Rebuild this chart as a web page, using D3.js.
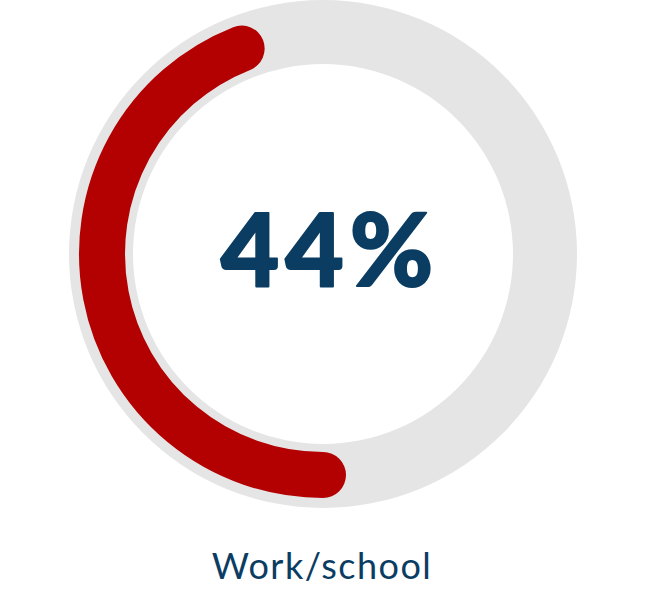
<!DOCTYPE html>
<html>
<head>
<meta charset="utf-8">
<script src="https://cdn.jsdelivr.net/npm/d3@7"></script>
<style>
  body { margin: 0; background: #fff; }
  svg { display: block; }
</style>
</head>
<body>
<script>
var w = 646,
    h = 592;

var categories = ["Work/school"];
var values = [44];
var valueLabels = ["44%"];

var cx = 323, cy = 254;

var svg = d3.select("body").append("svg")
    .attr("width", w)
    .attr("height", h);

var g = svg.append("g")
    .attr("transform", "translate(" + cx + "," + cy + ")");

// angle runs clockwise from 12 o'clock, the filled part starts at the bottom
var angle = d3.scaleLinear()
    .domain([0, 100])
    .range([Math.PI, 3 * Math.PI]);

var track = d3.arc()
    .innerRadius(190)
    .outerRadius(254)
    .startAngle(0)
    .endAngle(2 * Math.PI);

g.append("path")
    .attr("class", "track")
    .attr("d", track())
    .style("fill", "#e5e5e5");

function arcLine(r, a0, a1){
	var p = d3.path();
	p.arc(0, 0, r, a0 - Math.PI / 2, a1 - Math.PI / 2, false);
	return p.toString();
};

g.selectAll(".value")
    .data(values)
  .enter().append("path")
    .attr("class", "value")
    .attr("d", function(d){ return arcLine(221, angle(0), angle(d)); })
    .style("fill", "none")
    .style("stroke", "#b30000")
    .style("stroke-width", 46)
    .style("stroke-linecap", "round");

g.selectAll(".big")
    .data(valueLabels)
  .enter().append("text")
    .attr("class", "big")
    .attr("x", 7)
    .attr("y", 32)
    .attr("text-anchor", "middle")
    .style("font-family", "Lato, sans-serif")
    .style("font-weight", 900)
    .style("font-size", "101px")
    .style("letter-spacing", "6px")
    .style("fill", "#0b3d63")
    .style("stroke", "#0b3d63")
    .style("stroke-width", 2)
    .style("stroke-linejoin", "round")
    .text(function(d){ return d; });

svg.selectAll(".cat")
    .data(categories)
  .enter().append("text")
    .attr("class", "cat")
    .attr("x", 322)
    .attr("y", 579)
    .attr("text-anchor", "middle")
    .style("font-family", "Lato, sans-serif")
    .style("font-weight", 400)
    .style("font-size", "36px")
    .style("letter-spacing", "1.5px")
    .style("fill", "#0b3d63")
    .text(function(d){ return d; });
</script>
</body>
</html>
